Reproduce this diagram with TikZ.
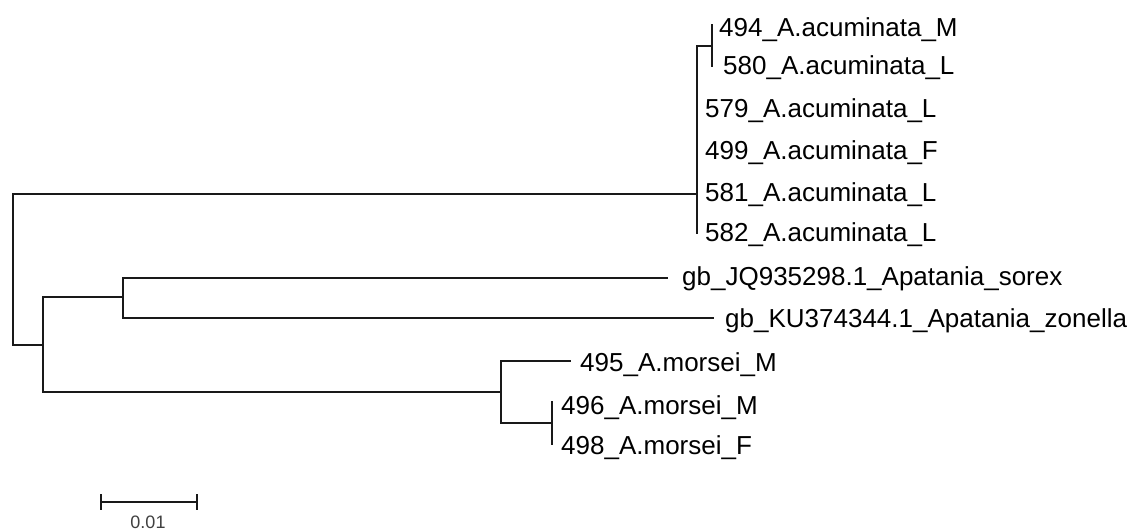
\documentclass[tikz,border=0pt]{standalone}
\usepackage{fontspec}
\setmainfont{Liberation Sans}
\begin{document}
\begin{tikzpicture}[x=1pt,y=-1pt,
  br/.style={draw=black!90,line width=1.8pt,line cap=rect,line join=miter},
  lab/.style={anchor=base west,inner sep=0pt,font=\fontsize{26pt}{30pt}\selectfont},
  sclab/.style={anchor=center,inner sep=0pt,text=black!75,font=\fontsize{18pt}{20pt}\selectfont}]
\useasboundingbox[fill=white] (0,0) rectangle (1135,531);
% internal nodes
\coordinate (nR) at (13,270);
\coordinate (nA) at (697,194);
\coordinate (nS) at (712,46);
\coordinate (nB) at (43,345);
\coordinate (nC) at (123,297);
\coordinate (nD) at (501,392);
\coordinate (nE) at (552,423);
% tips
\coordinate (t494) at (712,25);
\coordinate (t580) at (712,66);
\coordinate (t579) at (697,107);
\coordinate (t499) at (697,149);
\coordinate (t581) at (697,191);
\coordinate (t582) at (697,233);
\coordinate (tJQ) at (667,278);
\coordinate (tKU) at (713,318);
\coordinate (t495) at (570,361);
\coordinate (t496) at (552,402);
\coordinate (t498) at (552,444);
% branches
\draw[br] (nR) |- (nA);
\draw[br] (nR) |- (nB);
\draw[br] (nA) |- (nS);
\draw[br] (nS) |- (t494);
\draw[br] (nS) |- (t580);
\draw[br] (nA) |- (t579);
\draw[br] (nA) |- (t499);
\draw[br] (nA) |- (t581);
\draw[br] (nA) |- (t582);
\draw[br] (nB) |- (nC);
\draw[br] (nC) |- (tJQ);
\draw[br] (nC) |- (tKU);
\draw[br] (nB) |- (nD);
\draw[br] (nD) |- (t495);
\draw[br] (nD) |- (nE);
\draw[br] (nE) |- (t496);
\draw[br] (nE) |- (t498);
% labels
\node[lab] (l494) at (719,36.4) {494\_A.acuminata\_M};
\node[lab] (l580) at (723,74.4) {580\_A.acuminata\_L};
\node[lab] (l579) at (705,117.4) {579\_A.acuminata\_L};
\node[lab] (l499) at (705,159.4) {499\_A.acuminata\_F};
\node[lab] (l581) at (705,201.4) {581\_A.acuminata\_L};
\node[lab] (l582) at (705,241.4) {582\_A.acuminata\_L};
\node[lab] (lJQ) at (682,285.4) {gb\_JQ935298.1\_Apatania\_sorex};
\node[lab] (lKU) at (725,327.4) {gb\_KU374344.1\_Apatania\_zonella};
\node[lab] (l495) at (580,371.4) {495\_A.morsei\_M};
\node[lab] (l496) at (561,414.4) {496\_A.morsei\_M};
\node[lab] (l498) at (561,454.4) {498\_A.morsei\_F};
% scale bar
\coordinate (sbL) at (101,502);
\coordinate (sbR) at (197,502);
\draw[br] (sbL) -- (sbR);
\draw[br] ([yshift=-7pt]sbL) -- ([yshift=7pt]sbL);
\draw[br] ([yshift=-7pt]sbR) -- ([yshift=7pt]sbR);
\node[sclab] (sc) at (148,522) {0.01};
\end{tikzpicture}
\end{document}
